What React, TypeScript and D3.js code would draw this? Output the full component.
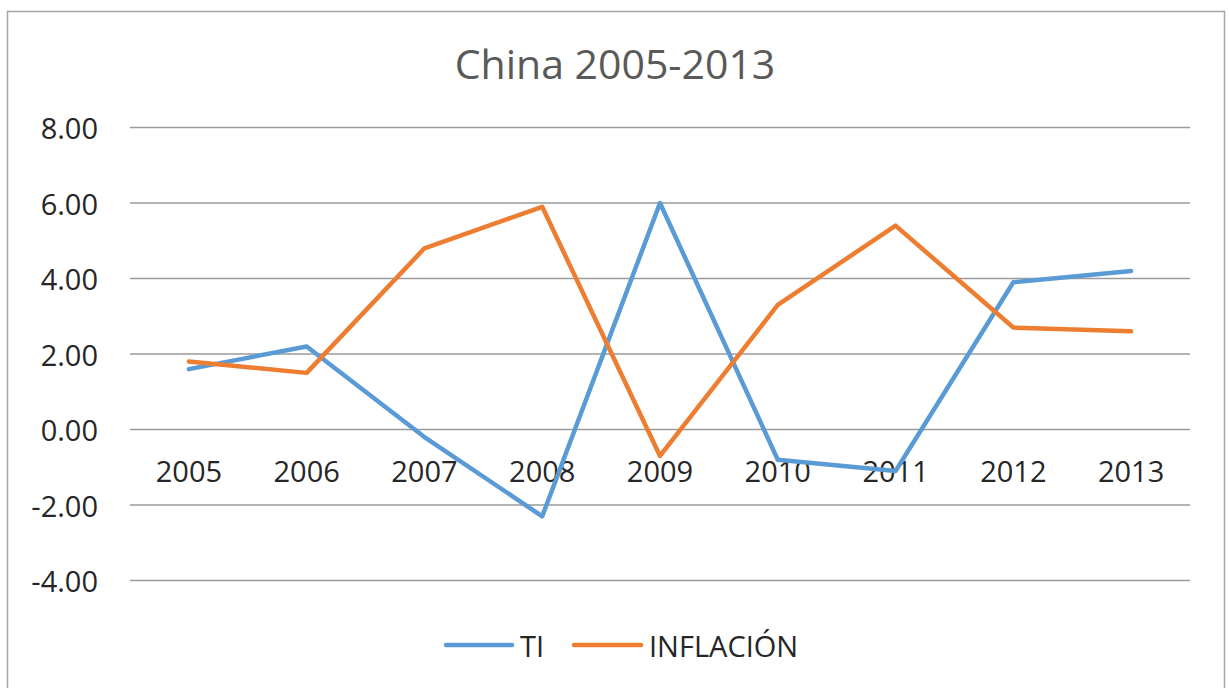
import React from "react";
import * as d3 from "d3";

const years = ["2005", "2006", "2007", "2008", "2009", "2010", "2011", "2012", "2013"];
const tiValues = [1.6, 2.2, -0.2, -2.3, 6.0, -0.8, -1.1, 3.9, 4.2];
const inflacionValues = [1.8, 1.5, 4.8, 5.9, -0.7, 3.3, 5.4, 2.7, 2.6];
const yTicks = [-4, -2, 0, 2, 4, 6, 8];
const seriesNames = ["TI", "INFLACIÓN"];
const seriesColors = ["#5B9BD5", "#ED7D31"];

const W = 1229;
const H = 688;
const FONT = "'Open Sans', sans-serif";
const fmt = d3.formatLocale({ decimal: ".", thousands: ",", grouping: [3], currency: ["", ""], minus: "-" }).format(".2f");

export default function App() {
  const x = d3.scaleBand<string>().domain(years).range([130, 1190]);
  const y = d3.scaleLinear().domain([-4, 8]).range([580.5, 127.5]);
  const line = d3
    .line<number>()
    .x((_, i) => (x(years[i]) as number) + x.bandwidth() / 2)
    .y((d) => y(d));
  const allSeries = [tiValues, inflacionValues];

  return (
    <svg
      width={W}
      height={H}
      style={{ position: "absolute", left: 0, top: 0, background: "#fff" }}
    >
      <rect x={0} y={0} width={W} height={H} fill="#fff" />
      <rect x={7.5} y={11.5} width={1217} height={720} fill="#fff" stroke="#A6A6A6" strokeWidth={1.5} />
      <text x={615} y={63} textAnchor="middle" dominantBaseline="central" fontFamily={FONT} fontSize={41} fill="#595959">
        China 2005-2013
      </text>
      {yTicks.map((t) => (
        <g key={t}>
          <line x1={130} x2={1190} y1={y(t)} y2={y(t)} stroke="#9A9A9A" strokeWidth={1.5} />
          <text x={98} y={y(t)} textAnchor="end" dominantBaseline="central" fontFamily={FONT} fontSize={29} fill="#262626">
            {fmt(t)}
          </text>
        </g>
      ))}
      {years.map((yr) => (
        <text key={yr} x={(x(yr) as number) + x.bandwidth() / 2} y={470.5} textAnchor="middle" dominantBaseline="central" fontFamily={FONT} fontSize={29} fill="#262626">
          {yr}
        </text>
      ))}
      {allSeries.map((s, i) => (
        <path key={i} d={line(s) || ""} fill="none" stroke={seriesColors[i]} strokeWidth={4.5} strokeLinejoin="round" strokeLinecap="round" />
      ))}
      <g>
        <line x1={446} x2={512} y1={645} y2={645} stroke={seriesColors[0]} strokeWidth={4.5} strokeLinecap="round" />
        <text x={520} y={645} dominantBaseline="central" fontFamily={FONT} fontSize={29} fill="#262626">{seriesNames[0]}</text>
        <line x1={574} x2={641} y1={645} y2={645} stroke={seriesColors[1]} strokeWidth={4.5} strokeLinecap="round" />
        <text x={649} y={645} dominantBaseline="central" fontFamily={FONT} fontSize={29} fill="#262626">{seriesNames[1]}</text>
      </g>
    </svg>
  );
}
